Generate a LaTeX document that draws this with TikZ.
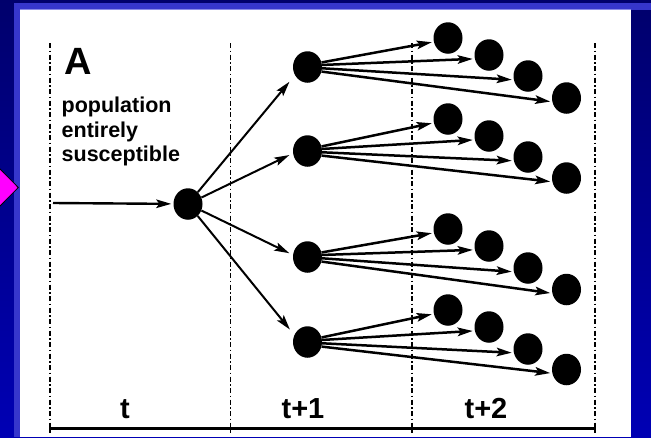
\documentclass[tikz,border=0pt]{standalone}
\usepackage{fontspec}
\setmainfont{Liberation Sans}
\usetikzlibrary{shapes.geometric,arrows.meta}
\definecolor{navytop}{HTML}{00006C}
\definecolor{navybot}{HTML}{0000B4}
\definecolor{bandblue}{HTML}{3636CC}
\definecolor{edgeblue}{HTML}{8A8AE6}
\definecolor{pointer}{HTML}{FF00FF}
\begin{document}
\begin{tikzpicture}[x=1pt,y=-1pt,
  dot/.style={ellipse,fill=black,minimum width=29pt,minimum height=31.5pt,inner sep=0pt},
  divider/.style={line width=1.6pt,dash pattern=on 5pt off 2.5pt on 1.5pt off 2.5pt},
  tip/.style={-{Stealth[length=15pt,width=8.5pt,inset=3pt]}},
  feed/.style={tip,line width=2.4pt,shorten >=2pt},
  trunk/.style={tip,line width=2pt},
  kid/.style={tip,line width=2.5pt,shorten >=2pt},
  heading/.style={font=\bfseries\fontsize{38}{38}\selectfont,anchor=base west,inner sep=0pt},
  caption/.style={font=\bfseries\fontsize{21.5}{24}\selectfont,anchor=base west,inner sep=0pt},
  period/.style={font=\bfseries\fontsize{29}{29}\selectfont,anchor=base,inner sep=0pt}]
\useasboundingbox (0,0) rectangle (651,437);

% slide background: dark frame, light band, white panel
\shade[top color=navytop,bottom color=navybot] (0,0) rectangle (651,437);
\fill[bandblue] (14,3.3) rectangle (651,9.5);
\fill[bandblue] (14,3.3) rectangle (20,437);
\fill[white] (20,9.5) rectangle (631,437);
\draw[edgeblue,line width=0.8pt] (20,9.8) -- (631,9.8);

% time dividers and axis
\foreach \x in {50,230.5,412,595} {
  \draw[divider] (\x,43) -- (\x,428);
  \draw[line width=1.6pt] (\x,428) -- (\x,432.5);
}
\draw[line width=3pt] (50,428.5) -- (595,428.5);

% labels
\node[heading] (lblA) at (64.5,74.3) {A};
\node[caption] (cap1) at (61.5,112.5) {population};
\node[caption] (cap2) at (61.5,137) {entirely};
\node[caption] (cap3) at (61.5,161.5) {susceptible};
\node[period] (tt0) at (125,418) {t};
\node[period] (tt1) at (303,418) {t+1};
\node[period] (tt2) at (486,418) {t+2};

% generation 0
\node[dot] (root) at (188,204) {};
\coordinate (src) at (53,203);
\draw[feed] (src) -- (root);

% generations 1 and 2
\foreach \g/\py/\a/\b/\c/\d in {1/67/38/55/76/98, 2/151/119/136/157/178,
    3/257/229/246/268/289.5, 4/342/310/327/349/369.5} {
  \node[dot] (p\g) at (307.5,\py) {};
  \node[dot] (c\g1) at (448,\a) {};
  \node[dot] (c\g2) at (489,\b) {};
  \node[dot] (c\g3) at (528,\c) {};
  \node[dot] (c\g4) at (566.5,\d) {};
}

\draw[trunk,shorten >=8.5pt] (root) -- (p1.213);
\draw[trunk,shorten >=4pt] (root) -- (p2.189);
\draw[trunk,shorten >=4pt] (root) -- (p3.172);
\draw[trunk,shorten >=7pt] (root) -- (p4.152);

\foreach \g in {1,...,4} {
  \draw[kid] (p\g.18) -- (c\g1.195);
  \draw[kid] (p\g.8) -- (c\g2.195);
  \draw[kid] (p\g.-5) -- (c\g3.195);
  \draw[kid] (p\g.-18) -- (c\g4.195);
}

% slide pointer
\draw[fill=pointer,draw=black,line width=0.8pt] (-3,166) -- (18.3,187.5) -- (-3,209) -- cycle;
\end{tikzpicture}
\end{document}
